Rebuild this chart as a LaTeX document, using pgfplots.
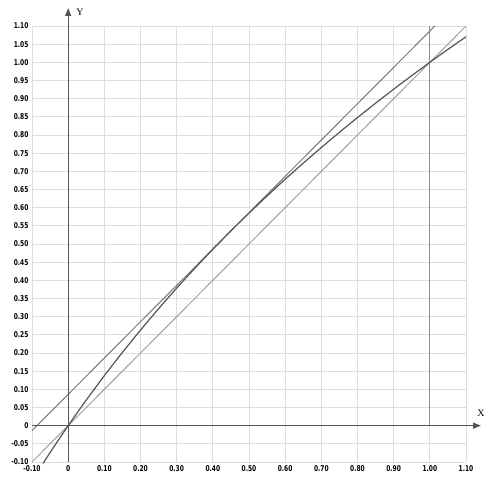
\documentclass[border=0pt]{standalone}
\usepackage{fontspec}
\setmainfont{DejaVu Sans}
\newfontfamily\tickfont{DejaVu Sans}[FakeStretch=0.74]
\newfontfamily\seriflab{Liberation Serif}
\usepackage{pgfplots}
\pgfplotsset{compat=1.18}
\usetikzlibrary{arrows.meta}
\definecolor{axisc}{HTML}{555555}
\definecolor{curvec}{HTML}{555555}
\definecolor{tanc}{HTML}{7A7A7A}
\definecolor{diagc}{HTML}{A0A0A0}
\definecolor{vertc}{HTML}{8C8C8C}
\definecolor{gridc}{HTML}{DDDDDD}
\begin{document}
\begin{tikzpicture}[x=1pt,y=1pt]
\begin{axis}[
  at={(0pt,0pt)}, anchor=south west,
  scale only axis, width=434pt, height=436pt,
  xmin=-0.1, xmax=1.1, ymin=-0.1, ymax=1.1,
  axis line style={draw=none},
  tick style={draw=none},
  clip=false,
  xtick={-0.1,0,0.1,0.2,0.3,0.4,0.5,0.6,0.7,0.8,0.9,1.0,1.1},
  xticklabels={-0.10,0,0.10,0.20,0.30,0.40,0.50,0.60,0.70,0.80,0.90,1.00,1.10},
  ytick={-0.1,-0.05,0,0.05,0.1,0.15,0.2,0.25,0.3,0.35,0.4,0.45,0.5,0.55,0.6,0.65,0.7,0.75,0.8,0.85,0.9,0.95,1.0,1.05,1.1},
  yticklabels={-0.10,-0.05,0,0.05,0.10,0.15,0.20,0.25,0.30,0.35,0.40,0.45,0.50,0.55,0.60,0.65,0.70,0.75,0.80,0.85,0.90,0.95,1.00,1.05,1.10},
  ticklabel style={font=\tickfont\bfseries\fontsize{8}{9}\selectfont, text=black},
  xticklabel style={yshift=0pt},
  yticklabel style={xshift=0pt},
  grid=major,
  major grid style={draw=gridc, line width=0.9pt},
]
% vertical line x = 1
\addplot[vertc, line width=1.3pt] coordinates {(1,0) (1,1.1)};
% y = x
\addplot[diagc, line width=1pt] coordinates {(-0.1,-0.1) (1.1,1.1)};
% tangent line parallel to y = x
\addplot[tanc, line width=1pt] coordinates {(-0.1,-0.0139) (1.0139,1.1)};
% curve y = log2(1+x)
\addplot[curvec, line width=1.2pt, smooth] coordinates {
(-0.0695,-0.1039) (-0.06,-0.08927) (-0.05,-0.0740) (-0.025,-0.03653) (0,0)
(0.025,0.03562) (0.05,0.07039) (0.1,0.13750) (0.15,0.20163) (0.2,0.26303)
(0.25,0.32193) (0.3,0.37851) (0.35,0.43296) (0.4,0.48543) (0.45,0.53605)
(0.5,0.58496) (0.55,0.63227) (0.6,0.67807) (0.65,0.72247) (0.7,0.76553)
(0.75,0.80735) (0.8,0.84800) (0.85,0.88753) (0.9,0.92600) (0.95,0.96347)
(1.0,1.0) (1.05,1.03562) (1.1,1.07039)};
% axes
\draw[axisc, line width=1.3pt, -{Triangle[length=8pt,width=6pt]}] (axis cs:-0.1,0) -- ([xshift=15pt]axis cs:1.1,0);
\draw[axisc, line width=1.3pt, -{Triangle[length=8pt,width=6pt]}] (axis cs:0,-0.1) -- ([yshift=18pt]axis cs:0,1.1);
\end{axis}
\node[font=\seriflab\fontsize{10}{11}\selectfont, inner sep=0pt] at (449,49) {X};
\node[font=\seriflab\fontsize{10}{11}\selectfont, inner sep=0pt] at (48,450) {Y};
\pgfresetboundingbox
\path[use as bounding box] (-32,-21) rectangle (463,462);
\end{tikzpicture}
\end{document}
